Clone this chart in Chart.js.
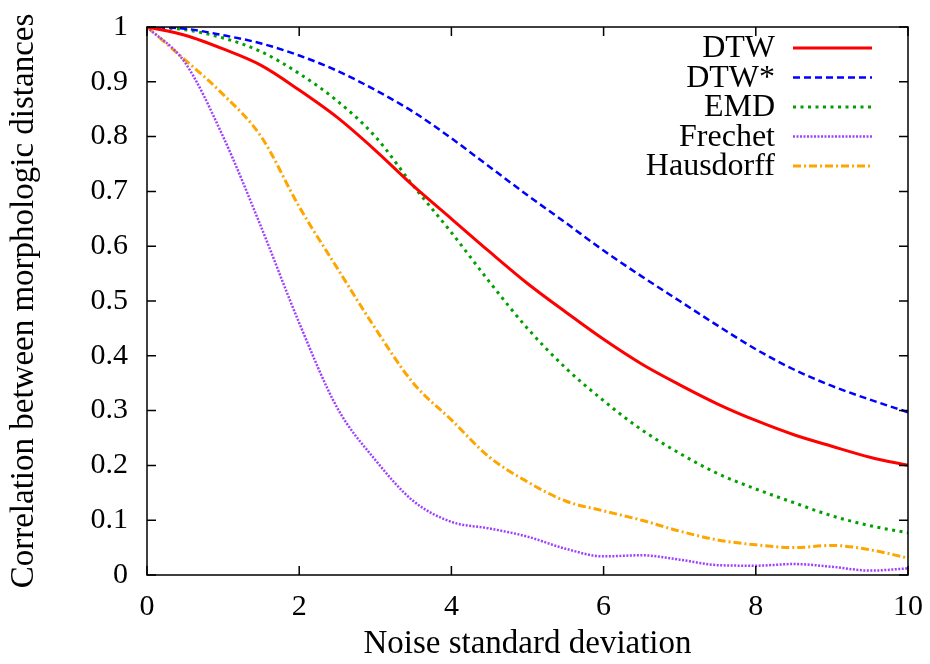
<!DOCTYPE html>
<html>
<head>
<meta charset="utf-8">
<script src="https://cdn.jsdelivr.net/npm/chart.js@4.4.1/dist/chart.umd.min.js"></script>
<style>
  body { margin: 0; background: #fff; }
  #box { width: 930px; height: 664px; }
</style>
</head>
<body>
<div id="box"><canvas id="corrChart" width="930" height="664"></canvas></div>
<script>
// noise std values (x), sampled every 0.5
const noiseStd = [0, 0.5, 1, 1.5, 2, 2.5, 3, 3.5, 4, 4.5, 5, 5.5, 6, 6.5, 7, 7.5, 8, 8.5, 9, 9.5, 10];

const dtw       = [1.0, 0.985, 0.96, 0.93, 0.885, 0.835, 0.775, 0.71, 0.65, 0.59, 0.532, 0.48, 0.43, 0.385, 0.347, 0.312, 0.282, 0.256, 0.235, 0.215, 0.2];
const dtwStar   = [1.0, 0.997, 0.985, 0.97, 0.948, 0.92, 0.885, 0.845, 0.797, 0.745, 0.693, 0.643, 0.592, 0.545, 0.5, 0.455, 0.412, 0.375, 0.345, 0.32, 0.297];
const emd       = [1.0, 0.995, 0.98, 0.955, 0.915, 0.865, 0.8, 0.71, 0.625, 0.535, 0.45, 0.378, 0.318, 0.265, 0.222, 0.185, 0.157, 0.132, 0.108, 0.09, 0.077];
const frechet   = [1.0, 0.935, 0.80, 0.635, 0.46, 0.305, 0.21, 0.135, 0.097, 0.085, 0.07, 0.048, 0.034, 0.036, 0.028, 0.018, 0.017, 0.02, 0.015, 0.008, 0.012];
const hausdorff = [1.0, 0.94, 0.877, 0.80, 0.672, 0.56, 0.45, 0.35, 0.283, 0.215, 0.17, 0.135, 0.117, 0.1, 0.08, 0.064, 0.055, 0.05, 0.054, 0.046, 0.031];

const xTicks = [0, 2, 4, 6, 8, 10];
const yTicks = [0, 0.1, 0.2, 0.3, 0.4, 0.5, 0.6, 0.7, 0.8, 0.9, 1];

const FONT = 'Liberation Serif';

function pts(vals) {
  return vals.map((v, i) => ({ x: noiseStd[i], y: v }));
}

// gnuplot style: ticks pointing in, mirrored on all four sides
const frameTicks = {
  id: 'frameTicks',
  afterDraw(chart) {
    const c = chart.ctx, a = chart.chartArea;
    const sx = chart.scales.x, sy = chart.scales.y;
    const len = 9;
    c.save();
    c.strokeStyle = '#000';
    c.lineWidth = 1.5;
    c.beginPath();
    xTicks.forEach(t => {
      const px = sx.getPixelForValue(t);
      c.moveTo(px, a.bottom); c.lineTo(px, a.bottom - len);
      c.moveTo(px, a.top); c.lineTo(px, a.top + len);
    });
    yTicks.forEach(t => {
      const py = sy.getPixelForValue(t);
      c.moveTo(a.left, py); c.lineTo(a.left + len, py);
      c.moveTo(a.right, py); c.lineTo(a.right - len, py);
    });
    c.stroke();
    c.strokeRect(a.left, a.top, a.right - a.left, a.bottom - a.top);
    c.restore();
  }
};

// key in the top right, text right aligned, sample line after it
const gnuKey = {
  id: 'gnuKey',
  afterDatasetsDraw(chart) {
    const c = chart.ctx;
    c.save();
    c.font = '32px "' + FONT + '"';
    c.textAlign = 'right';
    c.textBaseline = 'middle';
    chart.data.datasets.forEach((ds, i) => {
      const y = 48 + i * 29.5;
      c.fillStyle = '#000';
      c.fillText(ds.label, 775, y + 1);
      c.strokeStyle = ds.borderColor;
      c.lineWidth = ds.borderWidth;
      c.setLineDash(ds.borderDash || []);
      c.beginPath();
      c.moveTo(793, y);
      c.lineTo(872, y);
      c.stroke();
    });
    c.restore();
  }
};

const ctx = document.getElementById('corrChart').getContext('2d');
const corrChart = new Chart(ctx, {
  type: 'line',
  data: {
    datasets: [
      { label: 'DTW', data: pts(dtw), borderColor: '#ff0000', borderWidth: 3 },
      { label: 'DTW*', data: pts(dtwStar), borderColor: '#0000ff', borderWidth: 2.5, borderDash: [7, 4] },
      { label: 'EMD', data: pts(emd), borderColor: '#00a000', borderWidth: 3, borderDash: [3, 4.5] },
      { label: 'Frechet', data: pts(frechet), borderColor: '#a040ff', borderWidth: 2.5, borderDash: [2, 1.5] },
      { label: 'Hausdorff', data: pts(hausdorff), borderColor: '#ffa500', borderWidth: 3, borderDash: [8, 3, 2, 3] }
    ]
  },
  options: {
    responsive: false,
    animation: false,
    layout: { padding: { top: 27, right: 22, left: 0, bottom: 0 } },
    elements: {
      point: { radius: 0 },
      line: { cubicInterpolationMode: 'monotone', fill: false }
    },
    plugins: {
      legend: { display: false },
      tooltip: { enabled: false }
    },
    scales: {
      x: {
        type: 'linear',
        min: 0, max: 10,
        afterFit(s) { s.height = 89; s.paddingLeft = 0; s.paddingRight = 0; },
        afterBuildTicks(s) { s.ticks = xTicks.map(v => ({ value: v })); },
        grid: { display: false, drawTicks: false },
        border: { display: false },
        ticks: { color: '#000', padding: 14, font: { family: FONT, size: 30 }, maxRotation: 0 },
        title: {
          display: true, text: 'Noise standard deviation', color: '#000',
          font: { family: FONT, size: 33 }, padding: { top: 0, bottom: 0 }
        }
      },
      y: {
        min: 0, max: 1,
        afterFit(s) { s.width = 147; s.paddingTop = 0; s.paddingBottom = 0; },
        afterBuildTicks(s) { s.ticks = yTicks.map(v => ({ value: v })); },
        grid: { display: false, drawTicks: false },
        border: { display: false },
        ticks: {
          color: '#000', padding: 19, font: { family: FONT, size: 30 },
          callback: v => String(Number(v.toFixed(1)))
        },
        title: {
          display: true, text: 'Correlation between morphologic distances', color: '#000',
          font: { family: FONT, size: 33 }, padding: { top: 5, bottom: 0 }
        }
      }
    }
  },
  plugins: [frameTicks, gnuKey]
});
</script>
</body>
</html>
